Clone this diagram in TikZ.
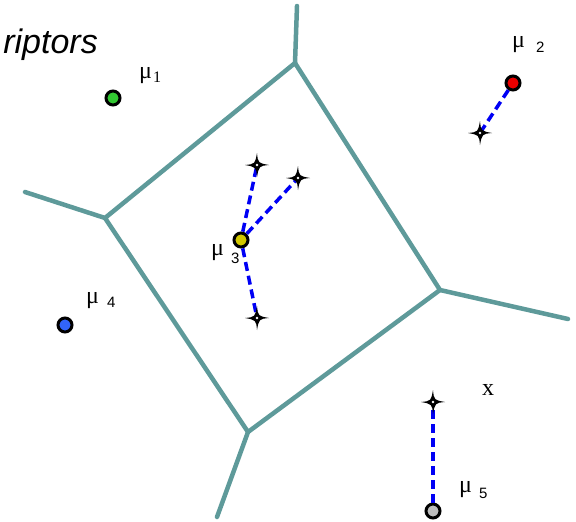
\documentclass[tikz,border=0pt]{standalone}
\usepackage{fontspec}
\setmainfont{Liberation Serif}
\newfontfamily\headfont{Liberation Sans}
\definecolor{cellline}{RGB}{94,154,154}
\definecolor{assignblue}{RGB}{0,0,245}
\definecolor{cgreen}{RGB}{50,200,50}
\definecolor{cred}{RGB}{235,0,0}
\definecolor{cyellow}{RGB}{210,200,0}
\definecolor{cblue}{RGB}{50,100,250}
\definecolor{cgray}{RGB}{190,190,190}
\tikzset{
    cellwall/.style={line width=4.5pt,cellline,line cap=round},
    centroid/.style={circle,draw=black,line width=3pt,minimum size=14pt,inner sep=0pt},
    sparkle/.pic={
        \fill[black] (12,0) .. controls (2,1) .. (0,12) .. controls (-1,2) .. (-12,0)
            .. controls (-2,-1) .. (0,-12) .. controls (1,-2) .. cycle;
        \fill[white] (0,0) circle (1.4);
    },
    assign/.style={assignblue,line width=3.5pt,dash pattern=on 9pt off 5pt},
    mulabel/.style={font=\fontsize{24}{24}\selectfont,inner sep=0pt,anchor=base west},
    sublabel/.style={font=\fontsize{16}{16}\selectfont,inner sep=0pt,anchor=base west}
}

\begin{document}
\begin{tikzpicture}[x=1pt,y=-1pt]
    \useasboundingbox (0,0) rectangle (576,522);
    % Title (cut off)
    \node[font=\headfont\itshape\fontsize{34}{34}\selectfont,inner sep=0pt,anchor=base east]
        (title) at (98,53) {riptors};
    % Voronoi cells
    \coordinate (vtop) at (295,63);
    \coordinate (vleft) at (105,218);
    \coordinate (vright) at (440,290);
    \coordinate (vbot) at (248,432);
    \draw[cellwall] (vtop) -- (vleft) -- (vbot) -- (vright) -- cycle;
    \draw[cellwall] (vtop) -- (297,6);
    \draw[cellwall] (vleft) -- (25,192);
    \draw[cellwall] (vright) -- (568,319);
    \draw[cellwall] (vbot) -- (217,517);
    % Samples
    \coordinate (x2) at (480,133);
    \coordinate (x31) at (257,165);
    \coordinate (x32) at (298,178);
    \coordinate (x33) at (257,318);
    \coordinate (x5) at (433,402);
    % Centroids
    \node[centroid,fill=cgreen] (mu1) at (113,98) {};
    \node[centroid,fill=cred] (mu2) at (513,83) {};
    \node[centroid,fill=cyellow] (mu3) at (241,240) {};
    \node[centroid,fill=cblue] (mu4) at (65,325) {};
    \node[centroid,fill=cgray] (mu5) at (433,511) {};
    % Assignments
    \draw[assign] (mu2) -- (x2);
    \draw[assign] (mu3) -- (x31);
    \draw[assign] (mu3) -- (x32);
    \draw[assign] (mu3) -- (x33);
    \draw[assign] (mu5) -- (x5);
    \foreach \s in {x2,x31,x32,x33,x5}
        \pic at (\s) {sparkle};
    % Labels
    \node[mulabel] (l1) at (139,78) {μ};
    \node[sublabel] (l1s) at (153,82) {1};
    \node[mulabel] (l2) at (512,47) {μ};
    \node[sublabel,font=\headfont\fontsize{15}{15}\selectfont] (l2s) at (536,52) {2};
    \node[mulabel] (l3) at (211,255) {μ};
    \node[sublabel,font=\headfont\fontsize{15}{15}\selectfont] (l3s) at (231,263) {3};
    \node[mulabel] (l4) at (86,303) {μ};
    \node[sublabel,font=\headfont\fontsize{15}{15}\selectfont] (l4s) at (107,307) {4};
    \node[mulabel] (l5) at (459,492) {μ};
    \node[sublabel,font=\headfont\fontsize{15}{15}\selectfont] (l5s) at (479,498) {5};
    \node[mulabel] (lx) at (482,395) {x};
\end{tikzpicture}
\end{document}
